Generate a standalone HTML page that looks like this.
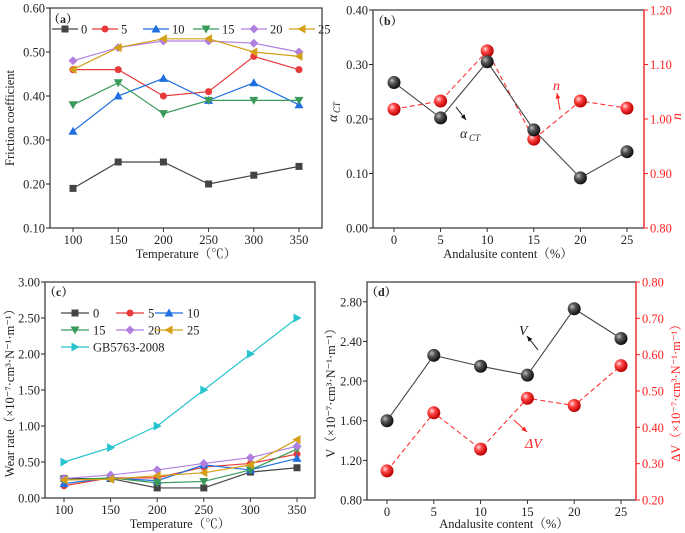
<!DOCTYPE html>
<html><head><meta charset="utf-8">
<style>
body{margin:0;background:#fff;}
svg{display:block;}
svg text{font-family:"Liberation Serif","Noto Serif CJK SC",serif;}
</style></head>
<body>
<svg id="fig" width="685" height="533" viewBox="0 0 685 533" xmlns="http://www.w3.org/2000/svg">
<defs>
<radialGradient id="gBlack" cx="35%" cy="35%" r="65%"><stop offset="0" stop-color="#bbb"/><stop offset="0.4" stop-color="#555"/><stop offset="1" stop-color="#111"/></radialGradient>
<radialGradient id="gRed" cx="35%" cy="35%" r="65%"><stop offset="0" stop-color="#fdd"/><stop offset="0.4" stop-color="#f44"/><stop offset="1" stop-color="#b00"/></radialGradient>
</defs>
</svg>
<script>
// ---- Panel a data ----
const tempCats = [100,150,200,250,300,350];
const aLabels = ['0','5','10','15','20','25'];
const a0 = [0.19,0.25,0.25,0.20,0.22,0.24];
const a5 = [0.46,0.46,0.40,0.41,0.49,0.46];
const a10 = [0.32,0.40,0.44,0.39,0.43,0.38];
const a15 = [0.38,0.43,0.36,0.39,0.39,0.39];
const a20 = [0.48,0.51,0.525,0.525,0.52,0.50];
const a25 = [0.46,0.51,0.53,0.53,0.50,0.49];
const aTicks = [0.10,0.20,0.30,0.40,0.50,0.60];
// ---- Panel b data ----
const contentCats = [0,5,10,15,20,25];
const bAct = [0.267,0.202,0.305,0.180,0.092,0.140];
const bN = [1.018,1.033,1.125,0.963,1.033,1.020];
const bLeftTicks = [0.00,0.10,0.20,0.30,0.40];
const bRightTicks = [0.80,0.90,1.00,1.10,1.20];
// ---- Panel c data ----
const c0 = [0.27,0.27,0.14,0.14,0.36,0.42];
const c5 = [0.17,0.28,0.28,0.43,0.48,0.61];
const c10 = [0.20,0.28,0.24,0.46,0.39,0.55];
const c15 = [0.25,0.28,0.21,0.23,0.39,0.68];
const c20 = [0.27,0.32,0.39,0.48,0.56,0.72];
const c25 = [0.25,0.26,0.31,0.35,0.46,0.81];
const cGB = [0.50,0.70,1.00,1.50,2.00,2.50];
const cTicks = [0.00,0.50,1.00,1.50,2.00,2.50,3.00];
// ---- Panel d data ----
const dV = [1.60,2.26,2.15,2.06,2.73,2.43];
const dDV = [0.28,0.44,0.34,0.48,0.46,0.57];
const dLeftTicks = [0.80,1.20,1.60,2.00,2.40,2.80];
const dRightTicks = [0.20,0.30,0.40,0.50,0.60,0.70,0.80];

const NS='http://www.w3.org/2000/svg';
const svg=document.getElementById('fig');
const FS=12.5;
function mk(tag,attrs,parent){const e=document.createElementNS(NS,tag);for(const k in attrs)e.setAttribute(k,attrs[k]);(parent||svg).appendChild(e);return e;}
function txt(s,x,y,attrs,parent){const e=mk('text',Object.assign({x:x,y:y,'font-size':FS,fill:'#222','font-family':'Liberation Serif, serif'},attrs||{}),parent);e.textContent=s;return e;}
function lin(d0,d1,r0,r1){return v=>r0+(v-d0)/(d1-d0)*(r1-r0);}

const colors={'0':'#444','5':'#e83a3a','10':'#1f6fe0','15':'#3a9a5a','20':'#b07fe0','25':'#d4a017','GB':'#27c4cf'};
const shapes={'0':'sq','5':'ci','10':'tu','15':'td','20':'di','25':'tl','GB':'tr'};
function marker(shape,x,y,c,s,parent){
  s=s||4;
  let p;
  if(shape==='sq')p=mk('rect',{x:x-s,y:y-s,width:2*s,height:2*s,fill:c},parent);
  else if(shape==='ci')p=mk('circle',{cx:x,cy:y,r:s,fill:c},parent);
  else{
    let pts;
    if(shape==='tu')pts=[[0,-s-1],[s+1,s],[-s-1,s]];
    if(shape==='td')pts=[[0,s+1],[s+1,-s],[-s-1,-s]];
    if(shape==='tl')pts=[[-s-1,0],[s,-s-1],[s,s+1]];
    if(shape==='tr')pts=[[s+1,0],[-s,-s-1],[-s,s+1]];
    if(shape==='di')pts=[[0,-s-1],[s+1,0],[0,s+1],[-s-1,0]];
    p=mk('polygon',{points:pts.map(q=>(x+q[0])+','+(y+q[1])).join(' '),fill:c},parent);
  }
  return p;
}
function series(g,name,cats,vals,xs,ys,c,shape){
  const sg=mk('g',{},g);
  
  
  mk('polyline',{points:cats.map((k,i)=>xs(k)+','+ys(vals[i])).join(' '),fill:'none',stroke:c,'stroke-width':1.2},sg);
  cats.forEach((k,i)=>{const m=marker(shape,xs(k),ys(vals[i]),c,3.5,sg);
    
    });
}
function frame(g,x0,y0,x1,y1,rightColor){
  mk('rect',{x:x0,y:y0,width:x1-x0,height:y1-y0,fill:'none',stroke:'#333','stroke-width':1.2},g);
  if(rightColor)mk('line',{x1:x1,y1:y0,x2:x1,y2:y1,stroke:rightColor,'stroke-width':1.4},g);
}
function xAxis(g,cats,xs,yb){
  const ag=mk('g',{},g);
  
  
  cats.forEach(k=>{mk('line',{x1:xs(k),y1:yb,x2:xs(k),y2:yb+4,stroke:'#333'},ag);
    txt(String(k),xs(k),yb+16,{'text-anchor':'middle'},ag);});
}
function yAxis(g,ticks,ys,x,side,color){
  const ag=mk('g',{},g);
  
  
  ticks.forEach(t=>{
    if(side==='l'){mk('line',{x1:x-4,y1:ys(t),x2:x,y2:ys(t),stroke:color},ag);
      txt(t.toFixed(2),x-5,ys(t)+4.5,{'text-anchor':'end',fill:color},ag);}
    else{mk('line',{x1:x,y1:ys(t),x2:x+4,y2:ys(t),stroke:color},ag);
      txt(t.toFixed(2),x+6,ys(t)+4.5,{'text-anchor':'start',fill:color},ag);}
  });
}
function sphere(x,y,grad,g){return mk('circle',{cx:x,cy:y,r:6.5,fill:'url(#'+grad+')'},g);}
function arrow(g,x1,y1,x2,y2,c){
  mk('line',{x1:x1,y1:y1,x2:x2,y2:y2,stroke:c,'stroke-width':1},g);
  const a=Math.atan2(y2-y1,x2-x1),L=6;
  mk('polygon',{points:[x2+','+y2,(x2-L*Math.cos(a-0.4))+','+(y2-L*Math.sin(a-0.4)),(x2-L*Math.cos(a+0.4))+','+(y2-L*Math.sin(a+0.4))].join(' '),fill:c},g);
}

// ===== Panel a =====
(function(){
  const g=mk('g',{});
  
  
  const x0=50,x1=322,y0=8,y1=228;
  const xs=lin(100,350,73,299), ys=lin(0.10,0.60,228,8);
  frame(g,x0,y0,x1,y1);
  xAxis(g,tempCats,xs,y1);
  yAxis(g,aTicks,ys,x0,'l','#222');
  const sets=[a0,a5,a10,a15,a20,a25];
  sets.forEach((s,i)=>series(g,'a-'+aLabels[i],tempCats,s,xs,ys,colors[aLabels[i]],shapes[aLabels[i]]));
  txt('（a）',48,23,{'font-weight':'bold','font-size':12},g);
  const lg=mk('g',{},g);
  
  
  const lx=[52,92,143,193,241,289];
  aLabels.forEach((l,i)=>{const c=colors[l];
    mk('line',{x1:lx[i],y1:29,x2:lx[i]+26,y2:29,stroke:c,'stroke-width':1.2},lg);
    marker(shapes[l],lx[i]+13,29,c,3.5,lg);
    txt(l,lx[i]+29,33.5,{},lg);});
  const yt=txt('Friction coefficient',14,118,{'text-anchor':'middle',transform:'rotate(-90 14 118)'},g);
  
  const xt=txt('Temperature（℃）',186,258,{'text-anchor':'middle'},g);
  
})();

// ===== Panel b =====
(function(){
  const g=mk('g',{});
  
  
  const x0=373,x1=644,y0=10,y1=228;
  const xs=lin(0,25,394,627), ysL=lin(0,0.40,228,10), ysR=lin(0.80,1.20,228,10);
  frame(g,x0,y0,x1,y1,'#f33');
  xAxis(g,contentCats,xs,y1);
  yAxis(g,bLeftTicks,ysL,x0,'l','#222');
  yAxis(g,bRightTicks,ysR,x1,'r','#f22');
  mk('polyline',{points:contentCats.map((k,i)=>xs(k)+','+ysR(bN[i])).join(' '),fill:'none',stroke:'#f33','stroke-width':1.1,'stroke-dasharray':'5,3'},g);
  mk('polyline',{points:contentCats.map((k,i)=>xs(k)+','+ysL(bAct[i])).join(' '),fill:'none',stroke:'#444','stroke-width':1.1},g);
  contentCats.forEach((k,i)=>{const s=sphere(xs(k),ysR(bN[i]),'gRed',g);
    
    });
  contentCats.forEach((k,i)=>{const s=sphere(xs(k),ysL(bAct[i]),'gBlack',g);
    
    });
  txt('（b）',372,25,{'font-weight':'bold','font-size':12},g);
  arrow(g,456,107,466,120,'#111');
  txt('α',460,138,{'font-style':'italic','font-size':14},g);
  txt('CT',469,141,{'font-style':'italic','font-size':9},g);
  arrow(g,560,110,557,93,'#f22');
  txt('n',553,90,{'font-style':'italic','font-size':14,fill:'#f22'},g);
  txt('α',337,122,{'font-style':'italic','font-size':14,transform:'rotate(-90 337 122)'},g);
  txt('CT',340,113,{'font-style':'italic','font-size':9,transform:'rotate(-90 340 113)'},g);
  txt('n',681,120,{'font-style':'italic','font-size':14,fill:'#f22',transform:'rotate(-90 681 120)'},g);
  const xt=txt('Andalusite content（%）',508,258,{'text-anchor':'middle'},g);
  
})();

// ===== Panel c =====
(function(){
  const g=mk('g',{});
  
  
  const x0=45,x1=315,y0=282,y1=498;
  const xs=lin(100,350,64,297), ys=lin(0,3.0,498,282);
  frame(g,x0,y0,x1,y1);
  xAxis(g,tempCats,xs,y1);
  yAxis(g,cTicks,ys,x0,'l','#222');
  const sets=[c0,c5,c10,c15,c20,c25];
  sets.forEach((s,i)=>series(g,'c-'+aLabels[i],tempCats,s,xs,ys,colors[aLabels[i]],shapes[aLabels[i]]));
  series(g,'c-GB5763-2008',tempCats,cGB,xs,ys,colors.GB,shapes.GB);
  txt('（c）',44,296,{'font-weight':'bold','font-size':12},g);
  const lg=mk('g',{},g);
  
  
  const items=[['0',61,313],['5',116,313],['10',155,313],['15',61,330],['20',116,330],['25',155,330],['GB',61,347]];
  items.forEach(it=>{const c=colors[it[0]];
    mk('line',{x1:it[1],y1:it[2],x2:it[1]+28,y2:it[2],stroke:c,'stroke-width':1.2},lg);
    marker(shapes[it[0]],it[1]+14,it[2],c,3.5,lg);
    txt(it[0]==='GB'?'GB5763-2008':it[0],it[1]+32,it[2]+4.5,{},lg);});
  const yt=txt('Wear rate（×10⁻⁷·cm³·N⁻¹·m⁻¹）',14,390,{'text-anchor':'middle',transform:'rotate(-90 14 390)'},g);
  
  const xt=txt('Temperature（℃）',180,528,{'text-anchor':'middle'},g);
  
})();

// ===== Panel d =====
(function(){
  const g=mk('g',{});
  
  
  const x0=367,x1=636,y0=282,y1=500;
  const xs=lin(0,25,387,621), ysL=lin(0.80,3.0,500,282), ysR=lin(0.20,0.80,500,282);
  frame(g,x0,y0,x1,y1,'#f33');
  xAxis(g,contentCats,xs,y1);
  yAxis(g,dLeftTicks,ysL,x0,'l','#222');
  yAxis(g,dRightTicks,ysR,x1,'r','#f22');
  mk('polyline',{points:contentCats.map((k,i)=>xs(k)+','+ysR(dDV[i])).join(' '),fill:'none',stroke:'#f33','stroke-width':1.1,'stroke-dasharray':'5,3'},g);
  mk('polyline',{points:contentCats.map((k,i)=>xs(k)+','+ysL(dV[i])).join(' '),fill:'none',stroke:'#444','stroke-width':1.1},g);
  contentCats.forEach((k,i)=>{const s=sphere(xs(k),ysR(dDV[i]),'gRed',g);
    
    });
  contentCats.forEach((k,i)=>{const s=sphere(xs(k),ysL(dV[i]),'gBlack',g);
    
    });
  txt('（d）',366,296,{'font-weight':'bold','font-size':12},g);
  arrow(g,538,350,527,336,'#111');
  txt('V',519,335,{'font-style':'italic','font-size':14},g);
  arrow(g,514,420,527,432,'#f22');
  txt('ΔV',525,448,{'font-style':'italic','font-size':14,fill:'#f22'},g);
  txt('V（×10⁻⁷·cm³·N⁻¹·m⁻¹）',335,390,{'text-anchor':'middle',transform:'rotate(-90 335 390)'},g);
  txt('ΔV（×10⁻⁷·cm³·N⁻¹·m⁻¹）',680,390,{'text-anchor':'middle',fill:'#f22',transform:'rotate(-90 680 390)'},g);
  const xt=txt('Andalusite content（%）',504,528,{'text-anchor':'middle'},g);
  
})();
</script>
</body></html>
